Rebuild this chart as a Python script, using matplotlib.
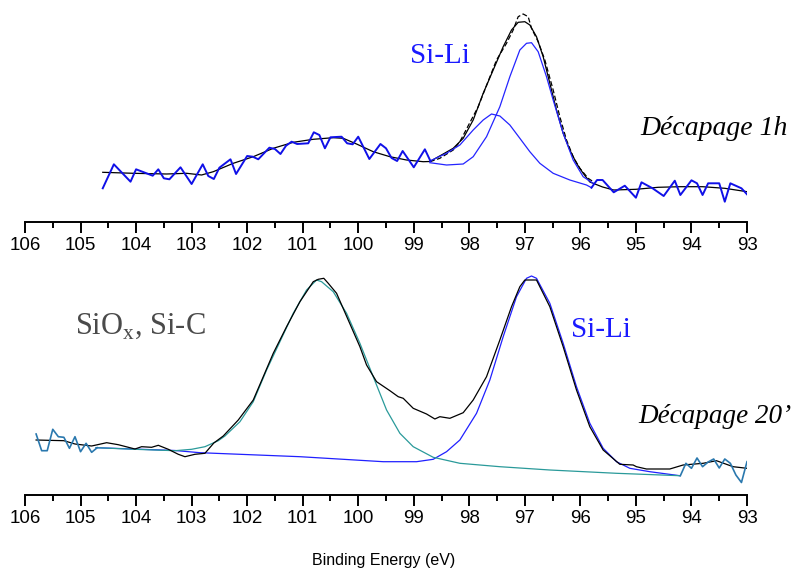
import numpy as np
import matplotlib
matplotlib.use('Agg')
import matplotlib.pyplot as plt

plt.rcParams['font.family'] = 'Liberation Sans'
plt.rcParams['mathtext.fontset'] = 'custom'
plt.rcParams['mathtext.rm'] = 'Liberation Serif'

# ---- top panel (Décapage 1h) ----
top_raw_e1 = [104.6, 104.4, 104.1, 104.0, 103.7, 103.6, 103.5, 103.4, 103.2, 103.0, 102.8, 102.7, 102.6, 102.5, 102.3,
              102.2, 102.0, 101.9, 101.8, 101.6, 101.5, 101.4, 101.3, 101.2, 101.1, 100.9, 100.8, 100.7, 100.6, 100.5,
              100.3, 100.2, 100.1, 100.0, 99.8, 99.6, 99.5, 99.4, 99.3, 99.2, 99.0, 98.8, 98.7]
top_raw_i1 = [33.7, 57.7, 40.3, 52.7, 46.3, 52.7, 43.7, 42.7, 54.7, 38.0, 57.7, 46.0, 43.0, 54.3, 62.7,
              48.0, 66.0, 65.3, 62.7, 74.3, 73.0, 68.0, 76.3, 80.3, 78.0, 78.7, 89.7, 87.0, 73.7, 84.7,
              85.3, 78.7, 77.7, 85.3, 63.0, 78.0, 73.7, 64.0, 61.0, 71.0, 54.7, 72.7, 61.0]
top_raw_e2 = [95.8, 95.7, 95.6, 95.4, 95.2, 95.0, 94.9, 94.7, 94.5, 94.3, 94.2, 94.0, 93.9, 93.8, 93.7, 93.5, 93.4,
              93.3, 93.1, 93.0]
top_raw_i2 = [34.3, 42.0, 42.0, 29.7, 36.3, 24.3, 39.7, 33.7, 26.0, 41.3, 27.0, 41.7, 38.7, 27.0, 38.7, 38.7, 20.3,
              38.7, 33.7, 27.7]

top_exp_e = [98.71, 98.53, 98.29, 98.17, 97.84, 97.51, 97.33, 97.21, 97.12, 97.03, 96.94, 96.88, 96.76, 96.64,
             96.49, 96.37, 96.25, 96.13, 96.01, 95.86, 95.77]
top_exp_i = [60.3, 63.7, 72.0, 80.3, 115.3, 162.0, 178.7, 192.0, 205.3, 208.0, 205.3, 193.7, 180.3, 162.0,
             132.0, 105.3, 82.0, 65.3, 53.7, 43.7, 40.3]

top_env_e = [104.6, 104.05, 103.45, 103.09, 102.82, 102.61, 102.25, 101.89, 101.53, 101.17, 100.81, 100.45, 100.27,
             100.03, 99.73, 99.43, 99.13, 98.83, 98.71, 98.47, 98.29, 98.11, 97.93, 97.75, 97.57, 97.39, 97.24,
             97.12, 97.0, 96.91, 96.79, 96.67, 96.55, 96.43, 96.31, 96.19, 96.07, 95.95, 95.83, 95.6, 95.4, 95.0,
             94.6, 94.2, 93.8, 93.4, 93.0]
top_env_i = [49.7, 48.7, 48.0, 48.7, 47.0, 50.3, 58.7, 65.3, 73.7, 79.7, 82.7, 84.3, 83.7,
             78.0, 70.3, 65.3, 62.0, 60.3, 60.5, 68.0, 73.7, 83.7, 102.0, 128.7, 152.0, 175.3, 192.0,
             199.7, 200.3, 197.0, 185.3, 165.3, 138.7, 112.0, 88.7, 72.0, 58.7, 48.7, 40.0, 35.0, 32.0, 32.7,
             34.7, 35.3, 35.3, 33.7, 30.3]

top_sili1_e = [98.71, 98.41, 98.17, 97.93, 97.75, 97.6, 97.45, 97.27, 97.09, 96.91, 96.73, 96.49, 96.19, 95.89, 95.8]
top_sili1_i = [61.0, 68.7, 77.0, 92.0, 102.0, 108.0, 106.0, 97.0, 83.7, 70.3, 58.7, 48.7, 42.0, 37.0, 34.3]

top_sili2_e = [98.71, 98.41, 98.11, 97.93, 97.69, 97.45, 97.27, 97.09, 96.97, 96.88, 96.76, 96.61, 96.49, 96.31,
               96.13, 95.95, 95.77]
top_sili2_i = [59.3, 57.0, 58.0, 65.3, 85.3, 115.3, 145.3, 172.0, 178.7, 179.3, 170.3, 145.3, 122.0, 88.7,
               62.0, 45.3, 38.7]

# ---- bottom panel (Décapage 20') ----
bot_raw_e1 = [105.8, 105.7, 105.6, 105.5, 105.4, 105.3, 105.2, 105.1, 105.0, 104.9, 104.8, 104.7]
bot_raw_i1 = [61.0, 44.3, 44.3, 65.7, 58.3, 57.7, 46.7, 58.3, 43.3, 51.7, 42.7, 47.3]
bot_raw_e2 = [94.2, 94.1, 94.0, 93.9, 93.8, 93.7, 93.6, 93.5, 93.4, 93.3, 93.2, 93.1, 93.0]
bot_raw_i2 = [19.3, 31.7, 26.7, 37.0, 28.3, 33.0, 36.0, 27.0, 36.0, 31.7, 20.0, 12.5, 33.3]

bot_exp_e = [105.8, 105.3, 105.1, 104.8, 104.53, 104.32, 104.02, 103.9, 103.72, 103.6, 103.42, 103.24, 103.12,
             102.94, 102.76, 102.6, 102.43, 102.16, 101.89, 101.71, 101.53, 101.29, 101.05, 100.81, 100.72,
             100.62, 100.54, 100.39, 100.18, 99.97, 99.85, 99.67, 99.43, 99.28, 99.19, 99.01, 98.77, 98.62,
             98.53, 98.35, 98.11, 97.93, 97.69, 97.45, 97.24, 97.09, 97.0, 96.79, 96.55, 96.31, 96.07, 95.83,
             95.59, 95.29, 95.05, 94.99, 94.81, 94.39, 94.15, 93.79, 93.55, 93.25, 93.0]
bot_exp_i = [55.0, 54.3, 51.0, 49.0, 52.3, 50.3, 46.0, 48.3, 47.7, 49.7, 45.7, 40.7, 38.3,
             40.7, 41.7, 52.0, 59.0, 75.0, 95.0, 118.3, 141.7, 168.3, 193.3, 213.3, 215.7,
             216.7, 211.7, 201.7, 175.0, 148.3, 130.0, 113.3, 104.3, 98.3, 96.7, 86.7, 81.0, 76.0,
             78.3, 76.7, 82.3, 95.0, 118.3, 155.0, 188.3, 208.3, 215.0, 215.0, 188.3, 148.3, 105.0, 68.3,
             45.0, 30.7, 30.0, 28.3, 26.0, 26.0, 30.0, 31.7, 34.3, 28.3, 26.7]

bot_siox_e = [104.72, 104.02, 103.3, 103.0, 102.76, 102.52, 102.4, 102.13, 101.89, 101.65, 101.41, 101.17, 100.93,
              100.75, 100.66, 100.45, 100.21, 99.97, 99.73, 99.49, 99.25, 99.01, 98.65, 98.17, 97.45, 96.55,
              95.35, 94.21]
bot_siox_i = [47.3, 45.7, 44.3, 45.7, 48.3, 54.3, 59.0, 73.3, 93.3, 125.0, 153.3, 181.7, 205.0,
              215.0, 213.3, 203.3, 181.7, 151.7, 118.3, 85.0, 61.7, 48.3, 37.7, 31.7, 28.3, 25.0,
              21.7, 19.3]

bot_sili_e = [104.72, 103.3, 102.85, 101.05, 99.55, 98.95, 98.65, 98.41, 98.17, 97.87, 97.63, 97.39, 97.15, 96.97,
              96.88, 96.79, 96.55, 96.31, 96.07, 95.83, 95.59, 95.35, 95.11, 94.75, 94.21]
bot_sili_i = [47.3, 44.5, 42.3, 38.3, 33.3, 33.3, 35.7, 43.3, 55.0, 81.7, 115.0, 158.3, 198.3, 216.7,
              219.0, 216.7, 191.7, 151.7, 108.3, 71.7, 46.7, 33.3, 26.7, 23.3, 19.3]

W, H = 801, 573
fig = plt.figure(figsize=(W / 100, H / 100), dpi=100)


def make_axes(top_px, bottom_px, ymax):
    ax = fig.add_axes([25 / W, (H - bottom_px) / H, 722 / W, (bottom_px - top_px) / H])
    ax.set_xlim(106, 93)
    ax.set_ylim(0, ymax)
    for s in ['left', 'right', 'top']:
        ax.spines[s].set_visible(False)
    ax.spines['bottom'].set_linewidth(1.4)
    ax.set_yticks([])
    ax.set_xticks(np.arange(93, 107, 1))
    ax.set_xticks(np.arange(93.5, 106, 1), minor=True)
    ax.tick_params(axis='x', which='major', direction='out', length=8, width=1.4, pad=3, labelsize=13.5)
    ax.tick_params(axis='x', which='minor', direction='out', length=4.5, width=1.4)
    ax.patch.set_visible(False)
    return ax


ax1 = make_axes(0, 222, 222)
ax1.plot(top_env_e, top_env_i, color='black', lw=0.9)
ax1.plot(top_exp_e, top_exp_i, color='black', lw=0.9, ls=(0, (4, 2)))
ax1.plot(top_sili1_e, top_sili1_i, color='#2424ff', lw=0.9)
ax1.plot(top_sili2_e, top_sili2_i, color='#2424ff', lw=0.9)
ax1.plot(top_raw_e1, top_raw_i1, color='#1010e8', lw=1.4)
ax1.plot(top_raw_e2, top_raw_i2, color='#1010e8', lw=1.4)

ax2 = make_axes(260, 495, 235)
ax2.plot(bot_sili_e, bot_sili_i, color='#2020ff', lw=0.9)
ax2.plot(bot_siox_e, bot_siox_i, color='#2a9a9a', lw=0.9)
ax2.plot(bot_exp_e, bot_exp_i, color='black', lw=0.9)
ax2.plot(bot_raw_e1, bot_raw_i1, color='#2a78ae', lw=1.2)
ax2.plot(bot_raw_e2, bot_raw_i2, color='#2a78ae', lw=1.2)

serif = 'Liberation Serif'
fig.text(410 / W, 1 - 63 / H, 'Si-Li', color='#1a1aff', fontsize=21, family=serif, va='baseline')
fig.text(640 / W, 1 - 135 / H, 'Décapage 1h', color='black', fontsize=20, family=serif, style='italic',
         va='baseline')
fig.text(75 / W, 1 - 334 / H, r'SiO$_{\mathrm{x}}$, Si-C', color='#4a4a4a', fontsize=22, family=serif,
         va='baseline')
fig.text(571 / W, 1 - 337 / H, 'Si-Li', color='#1a1aff', fontsize=21, family=serif, va='baseline')
fig.text(638 / W, 1 - 423 / H, 'Décapage 20\u2019', color='black', fontsize=19.5, family=serif, style='italic',
         va='baseline')
fig.text(384 / W, 1 - 560 / H, 'Binding Energy (eV)', fontsize=11.5, ha='center', va='center')

fig.savefig('out.png', dpi=100)
